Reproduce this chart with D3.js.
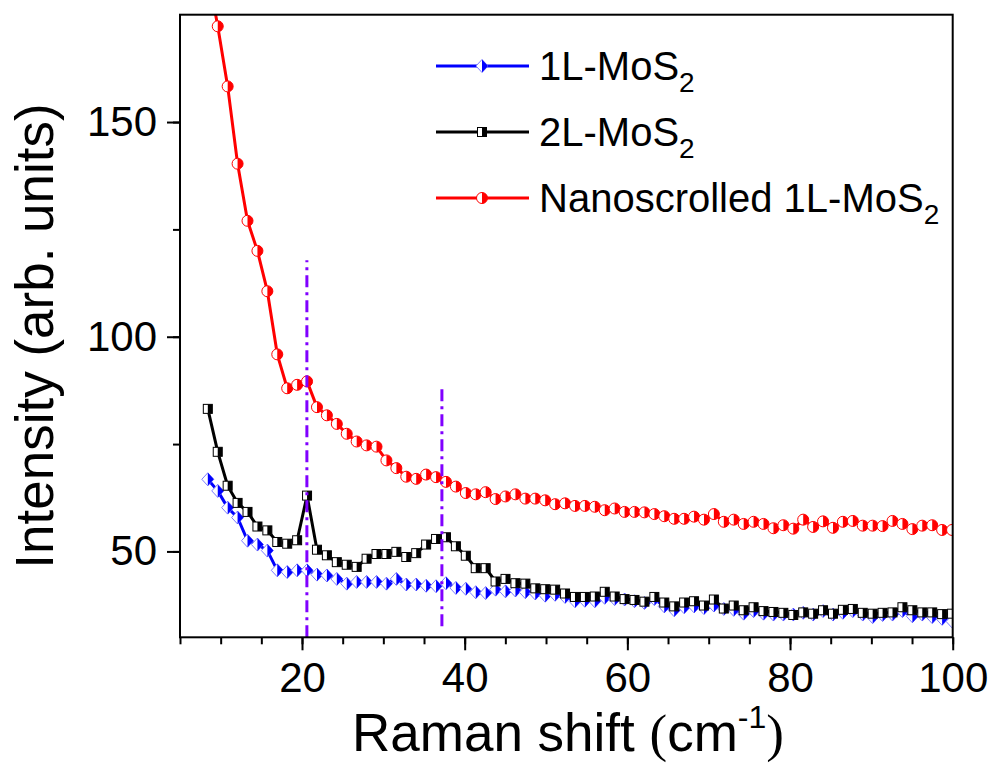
<!DOCTYPE html>
<html>
<head>
<meta charset="utf-8">
<script src="https://cdn.jsdelivr.net/npm/d3@7"></script>
<style>
  body { margin: 0; background: #fff; }
  text { font-family: "Liberation Sans", Arial, sans-serif; fill: #000; }
</style>
</head>
<body>
<script>
var width = 995,
    height = 763,
    margin = {top: 14.7, right: 42.3, bottom: 125.7, left: 180};

// Raman shift (cm^-1) sampling, shared by the three spectra
var shift = [8.42, 9.64, 10.86, 12.08, 13.30, 14.52, 15.74, 16.96, 18.18, 19.40,
  20.62, 21.84, 23.06, 24.28, 25.50, 26.72, 27.94, 29.16, 30.38, 31.60,
  32.82, 34.04, 35.26, 36.48, 37.70, 38.92, 40.14, 41.36, 42.58, 43.80,
  45.02, 46.24, 47.46, 48.68, 49.90, 51.12, 52.34, 53.56, 54.78, 56.00,
  57.22, 58.44, 59.66, 60.88, 62.10, 63.32, 64.54, 65.76, 66.98, 68.20,
  69.42, 70.64, 71.86, 73.08, 74.30, 75.52, 76.74, 77.96, 79.18, 80.40,
  81.62, 82.84, 84.06, 85.28, 86.50, 87.72, 88.94, 90.16, 91.38, 92.60,
  93.82, 95.04, 96.26, 97.48, 98.70, 99.92];

var mono = [66.8, 64.1, 60.2, 57.9, 52.5, 51.6, 50.2, 45.6, 45.2, 45.6,
  45.6, 44.6, 44.4, 43.6, 42.5, 42.9, 42.9, 42.9, 42.5, 43.6,
  42.3, 42.3, 42.0, 41.9, 42.6, 41.5, 41.3, 40.5, 40.3, 41.1,
  40.7, 40.9, 40.5, 40.2, 39.7, 39.9, 39.4, 38.4, 38.5, 38.4,
  39.2, 38.9, 38.8, 38.4, 38.0, 38.9, 37.2, 36.3, 37.0, 37.2,
  36.8, 37.4, 36.6, 36.4, 35.5, 36.1, 35.5, 35.3, 35.3, 35.3,
  35.7, 35.3, 36.1, 35.3, 35.7, 36.1, 35.3, 34.7, 35.2, 35.3,
  36.1, 34.9, 35.3, 34.7, 34.3, 33.7];

var bi = [83.2, 73.2, 65.3, 61.3, 59.2, 55.8, 54.9, 52.2, 51.8, 52.6,
  63.0, 50.4, 49.1, 47.5, 46.9, 46.4, 48.3, 49.4, 49.4, 49.9,
  48.7, 49.6, 51.6, 52.9, 53.3, 51.2, 49.0, 46.1, 46.1, 43.0,
  43.6, 42.6, 42.5, 41.4, 41.2, 41.1, 40.2, 39.4, 39.4, 39.5,
  40.6, 39.5, 38.9, 38.7, 38.3, 39.4, 38.1, 37.2, 38.1, 38.4,
  37.4, 38.8, 36.7, 37.4, 36.3, 37.0, 36.1, 35.9, 35.7, 35.2,
  35.8, 35.5, 36.3, 35.5, 36.4, 36.6, 35.7, 35.5, 35.7, 35.8,
  37.0, 36.3, 35.8, 35.8, 35.4, 35.5];

var scroll = [185.0, 172.3, 158.3, 140.3, 127.0, 120.0, 110.6, 95.9, 88.0, 88.8,
  89.6, 83.6, 81.7, 79.7, 77.4, 75.6, 74.7, 74.4, 71.2, 69.4,
  67.4, 66.9, 67.9, 67.3, 66.2, 65.1, 63.6, 63.3, 63.8, 62.2,
  62.8, 63.3, 62.3, 62.3, 61.9, 61.0, 61.2, 60.6, 60.6, 60.4,
  59.6, 60.0, 59.2, 59.2, 59.1, 58.7, 58.2, 57.6, 57.6, 58.1,
  57.4, 58.7, 56.9, 57.4, 56.4, 56.9, 56.4, 55.4, 56.1, 55.3,
  57.4, 55.7, 57.0, 55.5, 56.9, 57.1, 56.0, 56.0, 55.9, 57.1,
  56.4, 55.2, 56.0, 56.1, 55.0, 55.0];

var seriesNames = ["1L-MoS", "2L-MoS", "Nanoscrolled 1L-MoS"];

// dash-dot guide lines: [shift, bottom, top]
var guides = [[20.6, 30, 117.8], [37.2, 32.6, 88.8]];

var xTicks = [20, 40, 60, 80, 100],
    yTicks = [50, 100, 150];

var series = [
  {name: seriesNames[0], values: mono, color: "#0000ff", light: "#7b7bff", marker: "diamond"},
  {name: seriesNames[1], values: bi, color: "#000000", light: "#000000", marker: "square"},
  {name: seriesNames[2], values: scroll, color: "#ff0000", light: "#ff0000", marker: "circle"}
];

var x = d3.scaleLinear().domain([5, 100]).range([margin.left, width - margin.right]);
var y = d3.scaleLinear().domain([30, 175]).range([height - margin.bottom, margin.top]);

var svg = d3.select("body").append("svg")
  .attr("width", width)
  .attr("height", height);

svg.append("defs").append("clipPath").attr("id", "plot")
  .append("rect")
  .attr("x", x.range()[0]).attr("y", y.range()[1])
  .attr("width", x.range()[1] - x.range()[0])
  .attr("height", y.range()[0] - y.range()[1]);

function marker(g, kind, color, light) {
  if (kind === "circle") {
    g.append("circle").attr("r", 5.5).attr("fill", "#fff").attr("stroke", light).attr("stroke-width", 1);
    g.append("path").attr("d", "M0,-5.5A5.5,5.5 0 0 1 0,5.5Z").attr("fill", color);
  } else if (kind === "square") {
    g.append("rect").attr("x", -4.5).attr("y", -4.5).attr("width", 9).attr("height", 9)
      .attr("fill", "#fff").attr("stroke", light).attr("stroke-width", 1);
    g.append("rect").attr("x", 0).attr("y", -4.5).attr("width", 4.5).attr("height", 9).attr("fill", color);
  } else {
    g.append("path").attr("d", "M0,-6.5L6,0L0,6.5L-6,0Z")
      .attr("fill", "#fff").attr("stroke", light).attr("stroke-width", 1);
    g.append("path").attr("d", "M0,-6.5L6,0L0,6.5Z").attr("fill", color);
  }
}

var plot = svg.append("g").attr("clip-path", "url(#plot)");

var line = d3.line()
  .x(function(d, i) { return x(shift[i]); })
  .y(function(d) { return y(d); });

series.forEach(function(s) {
  var g = plot.append("g");
  g.append("path")
    .attr("d", line(s.values))
    .attr("fill", "none")
    .attr("stroke", s.color)
    .attr("stroke-width", 3)
    .attr("stroke-linejoin", "round");
  g.selectAll("g.pt").data(s.values).enter().append("g")
    .attr("class", "pt")
    .attr("transform", function(d, i) { return "translate(" + x(shift[i]) + "," + y(d) + ")"; })
    .each(function() { marker(d3.select(this), s.marker, s.color, s.light); });
});

plot.selectAll("line.guide").data(guides).enter().append("line")
  .attr("class", "guide")
  .attr("x1", function(d) { return x(d[0]); })
  .attr("x2", function(d) { return x(d[0]); })
  .attr("y1", function(d) { return y(d[1]); })
  .attr("y2", function(d) { return y(d[2]); })
  .attr("stroke", "#8000ff")
  .attr("stroke-width", 3)
  .attr("stroke-dasharray", "12,5,3,5");

// frame
svg.append("rect")
  .attr("x", x.range()[0]).attr("y", y.range()[1])
  .attr("width", x.range()[1] - x.range()[0])
  .attr("height", y.range()[0] - y.range()[1])
  .attr("fill", "none").attr("stroke", "#000").attr("stroke-width", 2);

// x axis
var xAxis = svg.append("g").attr("transform", "translate(0," + y.range()[0] + ")");
xAxis.call(d3.axisBottom(x).tickValues(d3.range(5, 100.1, 5)).tickSize(7).tickFormat(""))
  .call(function(g) { g.select(".domain").remove(); g.selectAll("line").attr("stroke-width", 2); });
xAxis.append("g")
  .call(d3.axisBottom(x).tickValues(xTicks).tickSize(13).tickPadding(12))
  .call(function(g) {
    g.select(".domain").remove();
    g.selectAll("line").attr("stroke-width", 2);
    g.selectAll("text").attr("font-size", 42).attr("font-family", "Liberation Sans, Arial, sans-serif").attr("fill", "#000");
  });

// y axis
var yAxis = svg.append("g").attr("transform", "translate(" + x.range()[0] + ",0)");
yAxis.call(d3.axisLeft(y).tickValues([50, 75, 100, 125, 150]).tickSize(7).tickFormat(""))
  .call(function(g) { g.select(".domain").remove(); g.selectAll("line").attr("stroke-width", 2); });
yAxis.append("g")
  .call(d3.axisLeft(y).tickValues(yTicks).tickSize(13).tickPadding(10))
  .call(function(g) {
    g.select(".domain").remove();
    g.selectAll("line").attr("stroke-width", 2);
    g.selectAll("text").attr("font-size", 42).attr("font-family", "Liberation Sans, Arial, sans-serif").attr("fill", "#000");
  });

// axis titles
var xt = svg.append("text")
  .attr("x", 568).attr("y", 751)
  .attr("text-anchor", "middle")
  .attr("font-size", 53);
xt.append("tspan").text("Raman shift ");
xt.append("tspan").attr("font-family", "Liberation Serif, serif").text("(");
xt.append("tspan").text("cm");
xt.append("tspan").attr("font-size", 32).attr("dy", -23).text("-1");
xt.append("tspan").attr("font-family", "Liberation Serif, serif").attr("dy", 23).text(")");

svg.append("text")
  .attr("transform", "translate(53,336) rotate(-90)")
  .attr("text-anchor", "middle")
  .attr("font-size", 53)
  .text("Intensity (arb. units)");

// legend
var legend = svg.append("g");
series.forEach(function(s, i) {
  var ly = 66 + i * 66;
  legend.append("line")
    .attr("x1", 436).attr("x2", 529).attr("y1", ly).attr("y2", ly)
    .attr("stroke", s.color).attr("stroke-width", 3);
  marker(legend.append("g").attr("transform", "translate(482," + ly + ")"), s.marker, s.color, s.light);
  var t = legend.append("text")
    .attr("x", 539).attr("y", ly + 14)
    .attr("font-size", 40);
  t.append("tspan").text(s.name);
  t.append("tspan").attr("font-size", 28).attr("dy", 12).text("2");
});
</script>
</body>
</html>
